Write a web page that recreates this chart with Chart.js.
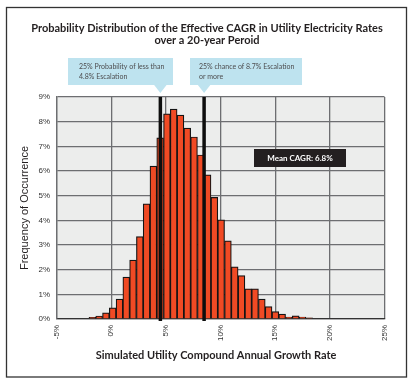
<!DOCTYPE html>
<html lang="en">
<head>
  <meta charset="UTF-8" />
  <title>Effective CAGR Distribution</title>
  <script src="https://cdn.jsdelivr.net/npm/chart.js"></script>
  <style>
    body { margin: 0; background: #ffffff; }
    canvas { display: block; }
  </style>
</head>
<body>
  <canvas id="cagrChart" width="417" height="388"></canvas>

  <script>
    // histogram bins (centre of each bin, % growth rate)
    const binCenters = [-1.72, -1.10, -0.48, 0.14, 0.76, 1.38, 2.00, 2.62, 3.24, 3.86,
      4.48, 5.10, 5.72, 6.34, 6.96, 7.58, 8.20, 8.82, 9.44, 10.06,
      10.68, 11.30, 11.92, 12.54, 13.16, 13.78, 14.40, 15.02, 15.64, 16.26,
      16.88, 17.50, 18.12];
    // frequency of occurrence (%)
    const frequencies = [0.07, 0.12, 0.25, 0.45, 0.81, 1.70, 2.39, 3.34, 4.67, 6.20,
      7.34, 8.32, 8.51, 8.27, 7.74, 7.38, 6.65, 5.84, 4.93, 4.02,
      3.17, 2.11, 1.76, 1.22, 1.22, 0.81, 0.50, 0.30, 0.20, 0.08,
      0.13, 0.08, 0.05];
    const xTicks = [-5, 0, 5, 10, 15, 20, 25];
    const yTicks = [0, 1, 2, 3, 4, 5, 6, 7, 8, 9];
    // quartile marker lines, as drawn on the picture
    const quartileLines = [4.5, 8.5];
    const titleLines = ['Probability Distribution of the Effective CAGR in Utility Electricity Rates',
      'over a 20-year Peroid'];
    const calloutTexts = [
      ['25% Probability of less than', '4.8% Escalation'],
      ['25% chance of 8.7% Escalation', 'or more']
    ];
    const meanLabel = 'Mean CAGR: 6.8%';

    const histogramData = binCenters.map((x, i) => ({ x: x, y: frequencies[i] }));

    const decorations = {
      id: 'decorations',
      beforeDraw(chart) {
        const { ctx, chartArea: a } = chart;
        ctx.save();
        ctx.fillStyle = '#ecedec';
        ctx.fillRect(a.left, a.top, a.right - a.left, a.bottom - a.top);
        ctx.restore();
      },
      afterDatasetsDraw(chart) {
        const { ctx, chartArea: a, scales } = chart;
        ctx.save();
        ctx.strokeStyle = '#0d0d0d';
        ctx.lineWidth = 3.5;
        quartileLines.forEach(v => {
          const px = scales.x.getPixelForValue(v);
          ctx.beginPath();
          ctx.moveTo(px, a.top);
          ctx.lineTo(px, a.bottom + 2);
          ctx.stroke();
        });
        ctx.restore();
      },
      afterDraw(chart) {
        const { ctx, scales } = chart;
        ctx.save();

        // title
        ctx.fillStyle = '#231f20';
        ctx.font = 'bold 11px Lato';
        ctx.textAlign = 'center';
        ctx.textBaseline = 'middle';
        titleLines.forEach((t, i) => ctx.fillText(t, 207, 28 + i * 12.7));

        // callout boxes pointing at the quartile lines
        const boxes = [{ x: 68, w: 105, tx: 79 }, { x: 190, w: 112, tx: 199 }];
        boxes.forEach((b, i) => {
          const px = scales.x.getPixelForValue(quartileLines[i]);
          ctx.fillStyle = '#bee3ef';
          ctx.fillRect(b.x, 58, b.w, 27);
          ctx.beginPath();
          ctx.moveTo(px - 7, 84);
          ctx.lineTo(px + 7, 84);
          ctx.lineTo(px, 93);
          ctx.closePath();
          ctx.fill();
          ctx.fillStyle = '#4d4d4f';
          ctx.font = '7px Lato';
          ctx.textBaseline = 'middle';
          ctx.textAlign = 'left';
          calloutTexts[i].forEach((t, j) => ctx.fillText(t, b.tx, 67 + j * 10));
        });

        // mean label
        ctx.fillStyle = '#231f20';
        ctx.fillRect(254, 149, 92, 18);
        ctx.fillStyle = '#ffffff';
        ctx.font = 'bold 8px Lato';
        ctx.textAlign = 'center';
        ctx.textBaseline = 'middle';
        ctx.fillText(meanLabel, 300, 158.5);

        // x axis title
        ctx.fillStyle = '#231f20';
        ctx.font = 'bold 11px Lato';
        ctx.fillText('Simulated Utility Compound Annual Growth Rate', 216, 355);

        // outer frame
        ctx.strokeStyle = '#333333';
        ctx.lineWidth = 1.3;
        ctx.strokeRect(6.5, 7.5, 400, 369.5);
        ctx.restore();
      }
    };

    new Chart(document.getElementById('cagrChart').getContext('2d'), {
      type: 'bar',
      data: {
        datasets: [{
          data: histogramData,
          backgroundColor: '#f04a24',
          borderColor: '#141414',
          borderWidth: 1.2,
          barPercentage: 1,
          categoryPercentage: 1
        }]
      },
      options: {
        responsive: false,
        animation: false,
        layout: { padding: { left: 0, right: 32.5, top: 97, bottom: 0 } },
        plugins: {
          legend: { display: false },
          tooltip: { enabled: false },
          title: { display: false }
        },
        scales: {
          x: {
            type: 'linear',
            min: -5,
            max: 25,
            offset: false,
            afterBuildTicks: s => { s.ticks = xTicks.map(v => ({ value: v })); },
            afterFit: s => { s.height = 69; },
            ticks: {
              minRotation: 90,
              maxRotation: 90,
              padding: 6,
              color: '#333333',
              font: { family: 'Liberation Sans', size: 8 },
              callback: v => v + '%'
            },
            grid: { color: '#6d6e71', lineWidth: 1.3, drawTicks: false, offset: false },
            border: { color: '#333333', width: 1.3 }
          },
          y: {
            min: 0,
            max: 9,
            afterBuildTicks: s => { s.ticks = yTicks.map(v => ({ value: v })); },
            afterFit: s => { s.width = 56.5; },
            ticks: {
              padding: 6.5,
              color: '#333333',
              font: { family: 'Liberation Sans', size: 8 },
              callback: v => v + '%'
            },
            grid: { color: '#6d6e71', lineWidth: 1.3, drawTicks: false },
            border: { color: '#6d6e71', width: 1.3 },
            title: {
              display: true,
              text: 'Frequency of Occurrence',
              color: '#231f20',
              font: { family: 'Liberation Sans', size: 11 },
              padding: { top: 18.4, bottom: 0 }
            }
          }
        }
      },
      plugins: [decorations]
    });
  </script>
</body>
</html>
